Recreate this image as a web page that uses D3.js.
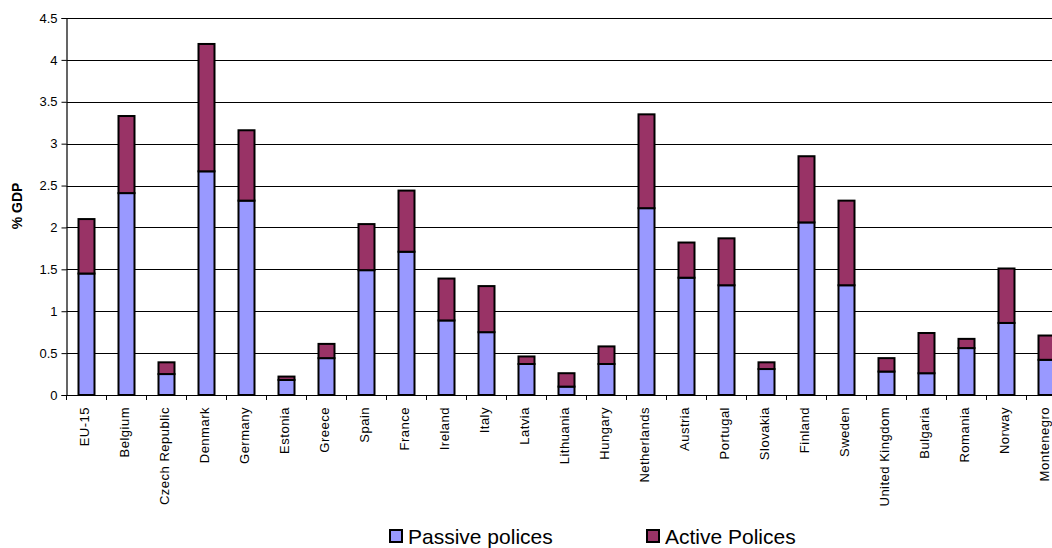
<!DOCTYPE html>
<html>
<head>
<meta charset="utf-8">
<script src="https://cdn.jsdelivr.net/npm/d3@7"></script>
<style>
  html, body { margin: 0; padding: 0; background: #fff; }
  svg { display: block; font-family: "Liberation Sans", Arial, sans-serif; }
</style>
</head>
<body>
<svg id="chart" width="1052" height="548"></svg>
<script>
// Labour-market policy spending by country, % of GDP
const countries = ["EU-15", "Belgium", "Czech Republic", "Denmark", "Germany", "Estonia", "Greece",
  "Spain", "France", "Ireland", "Italy", "Latvia", "Lithuania", "Hungary", "Netherlands", "Austria",
  "Portugal", "Slovakia", "Finland", "Sweden", "United Kingdom", "Bulgaria", "Romania", "Norway", "Montenegro"];
const passive = [1.45, 2.41, 0.25, 2.67, 2.32, 0.18, 0.44, 1.49, 1.71, 0.89, 0.75, 0.37, 0.10, 0.37, 2.23, 1.40,
  1.31, 0.31, 2.06, 1.31, 0.28, 0.26, 0.56, 0.86, 0.42];
const active = [0.65, 0.92, 0.14, 1.52, 0.84, 0.04, 0.17, 0.55, 0.73, 0.50, 0.55, 0.09, 0.16, 0.21, 1.12, 0.42,
  0.56, 0.08, 0.79, 1.01, 0.16, 0.48, 0.11, 0.65, 0.29];
const seriesNames = ["Passive polices", "Active Polices"];
const seriesColors = ["#9999FF", "#993366"];
const yTicks = [0, 0.5, 1, 1.5, 2, 2.5, 3, 3.5, 4, 4.5];

const svg = d3.select("#chart");
const plotLeft = 66.5, plotTop = 18, plotBottom = 395, step = 40;

const x = d3.scaleBand()
  .domain(countries)
  .range([plotLeft, plotLeft + step * countries.length])
  .paddingInner(0).paddingOuter(0);
const y = d3.scaleLinear().domain([0, 4.5]).range([plotBottom, plotTop]);

// horizontal gridlines
svg.append("g")
  .selectAll("line")
  .data(yTicks.filter(d => d > 0))
  .join("line")
  .attr("x1", plotLeft).attr("x2", 1052)
  .attr("y1", d => Math.round(y(d)) + 0.5).attr("y2", d => Math.round(y(d)) + 0.5)
  .attr("stroke", "#000").attr("stroke-width", 1);

// stacked bars
const rows = countries.map((c, i) => ({ country: c, passive: passive[i], active: active[i] }));
const stacked = d3.stack().keys(["passive", "active"])(rows);
const barW = 16;

svg.append("g")
  .selectAll("g")
  .data(stacked)
  .join("g")
  .attr("fill", (d, i) => seriesColors[i])
  .selectAll("rect")
  .data(d => d)
  .join("rect")
  .attr("x", d => x(d.data.country) + x.bandwidth() / 2 - barW / 2)
  .attr("width", barW)
  .attr("y", d => y(d[1]))
  .attr("height", d => y(d[0]) - y(d[1]))
  .attr("stroke", "#000")
  .attr("stroke-width", 2);

// y axis
const yAxis = svg.append("g")
  .attr("transform", `translate(${plotLeft},0)`)
  .call(d3.axisLeft(y).tickValues(yTicks).tickSize(5).tickPadding(4).tickFormat(d3.format("")));
yAxis.select(".domain").attr("stroke", "#000").attr("stroke-width", 1.2);
yAxis.selectAll(".tick line").attr("stroke", "#000");
yAxis.selectAll(".tick text")
  .attr("font-family", "Liberation Sans, Arial, sans-serif")
  .attr("font-size", 13).attr("fill", "#000");

// x axis line and category separators
svg.append("line")
  .attr("x1", plotLeft).attr("x2", 1052)
  .attr("y1", plotBottom + 0.5).attr("y2", plotBottom + 0.5)
  .attr("stroke", "#000").attr("stroke-width", 1.2);
svg.append("g")
  .selectAll("line")
  .data(countries.map((c, i) => i).concat([countries.length]))
  .join("line")
  .attr("x1", i => plotLeft + i * step).attr("x2", i => plotLeft + i * step)
  .attr("y1", plotBottom).attr("y2", plotBottom + 5)
  .attr("stroke", "#000");

// category labels
svg.append("g")
  .selectAll("text")
  .data(countries)
  .join("text")
  .attr("transform", d => `translate(${x(d) + x.bandwidth() / 2 - 2.5},407) rotate(-90)`)
  .attr("text-anchor", "end")
  .attr("dy", "0.36em")
  .attr("font-size", 13)
  .attr("letter-spacing", 0.5)
  .attr("fill", "#000")
  .text(d => d);

// y axis title
svg.append("text")
  .attr("transform", `translate(17,206) rotate(-90)`)
  .attr("text-anchor", "middle")
  .attr("dy", "0.35em")
  .attr("font-size", 14)
  .attr("font-weight", "bold")
  .text("% GDP");

// legend
const legendX = [390, 647];
const legend = svg.append("g")
  .selectAll("g")
  .data(seriesNames)
  .join("g")
  .attr("transform", (d, i) => `translate(${legendX[i]},530)`);
legend.append("rect")
  .attr("width", 12).attr("height", 12)
  .attr("fill", (d, i) => seriesColors[i])
  .attr("stroke", "#000").attr("stroke-width", 2);
legend.append("text")
  .attr("x", 18).attr("y", 14)
  .attr("font-size", 21)
  .attr("fill", "#000")
  .text(d => d);
</script>
</body>
</html>
